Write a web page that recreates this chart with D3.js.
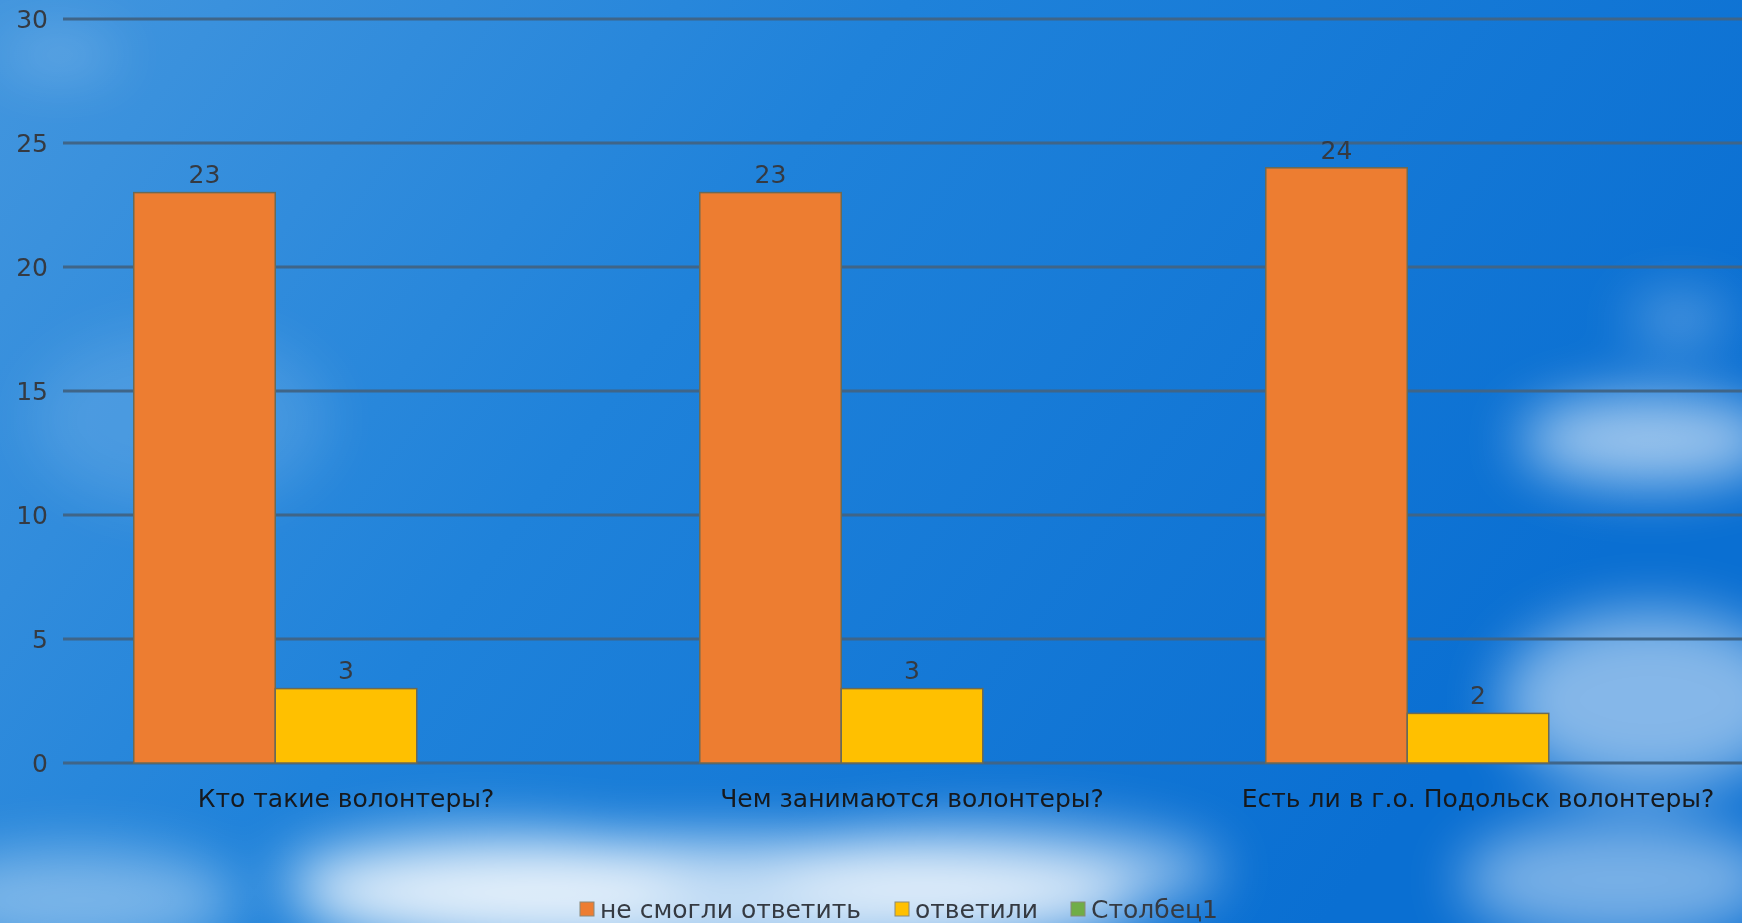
<!DOCTYPE html>
<html>
<head>
<meta charset="utf-8">
<script src="https://cdn.jsdelivr.net/npm/d3@7"></script>
<style>
  body { margin: 0; overflow: hidden; }
  svg { display: block; }
</style>
</head>
<body>
<svg id="chart" width="1742" height="923"></svg>
<script>
// --------------------------
// DATA
// --------------------------
const categories = ["Кто такие волонтеры?", "Чем занимаются волонтеры?", "Есть ли в г.о. Подольск волонтеры?"];
const seriesNames = ["не смогли ответить", "ответили", "Столбец1"];
const notAnswered = [23, 23, 24];
const answered = [3, 3, 2];
const column1 = [null, null, null];
const yTicks = [0, 5, 10, 15, 20, 25, 30];

const seriesValues = [notAnswered, answered, column1];
const colors = ["#ED7D31", "#FFC000", "#70AD47"];

const svg = d3.select("#chart");
const width = +svg.attr("width");
const height = +svg.attr("height");
const font = "'DejaVu Sans', sans-serif";
const fontSize = 25;

// --------------------------
// BACKGROUND (sky)
// --------------------------
const defs = svg.append("defs");
const grad = defs.append("linearGradient")
    .attr("id", "sky").attr("x1", 0).attr("y1", 0).attr("x2", 1).attr("y2", 0.4);
grad.append("stop").attr("offset", "0%").attr("stop-color", "#4396de");
grad.append("stop").attr("offset", "45%").attr("stop-color", "#1f82da");
grad.append("stop").attr("offset", "100%").attr("stop-color", "#0a6fd2");

const blur = defs.append("filter").attr("id", "blur")
    .attr("x", "-50%").attr("y", "-50%").attr("width", "200%").attr("height", "200%");
blur.append("feGaussianBlur").attr("stdDeviation", 28);

svg.append("rect").attr("width", width).attr("height", height).attr("fill", "url(#sky)");

const clouds = svg.append("g").attr("filter", "url(#blur)");
[
    [60, 55, 60, 18, 0.25],
    [720, 900, 420, 60, 0.75],
    [480, 880, 200, 50, 0.55],
    [1000, 870, 220, 45, 0.55],
    [80, 900, 160, 50, 0.4],
    [1650, 440, 130, 45, 0.6],
    [1650, 700, 150, 90, 0.5],
    [1620, 880, 160, 60, 0.45],
    [1680, 320, 50, 22, 0.35],
    [180, 420, 150, 90, 0.12]
].forEach(c => {
    clouds.append("ellipse")
        .attr("cx", c[0]).attr("cy", c[1]).attr("rx", c[2]).attr("ry", c[3])
        .attr("fill", "#ffffff").attr("opacity", c[4]);
});

// --------------------------
// SCALES
// --------------------------
const x0 = d3.scaleBand()
    .domain(categories)
    .range([63, 1761])
    .paddingInner(0)
    .paddingOuter(0);

const x1 = d3.scaleBand()
    .domain(seriesNames)
    .range([0, x0.bandwidth()])
    .paddingInner(0)
    .paddingOuter(0.5);

const y = d3.scaleLinear()
    .domain([0, 30])
    .range([763, 19]);

// --------------------------
// GRIDLINES + Y AXIS
// --------------------------
svg.append("g")
    .selectAll("line")
    .data(yTicks)
    .enter()
    .append("line")
    .attr("x1", 63)
    .attr("x2", width)
    .attr("y1", d => y(d))
    .attr("y2", d => y(d))
    .attr("stroke", "#3f6588")
    .attr("stroke-width", 3);

svg.append("g")
    .selectAll("text")
    .data(yTicks)
    .enter()
    .append("text")
    .attr("x", 48)
    .attr("y", d => y(d))
    .attr("dy", "0.35em")
    .attr("text-anchor", "end")
    .attr("font-family", font)
    .attr("font-size", fontSize)
    .attr("fill", "#353a42")
    .text(d => d);

// --------------------------
// BARS
// --------------------------
const rows = [];
categories.forEach((c, i) => {
    seriesNames.forEach((s, j) => {
        if (seriesValues[j][i] != null) rows.push({ cat: c, series: s, value: seriesValues[j][i], color: colors[j] });
    });
});

const bars = svg.append("g");
bars.selectAll("rect")
    .data(rows)
    .enter()
    .append("rect")
    .attr("x", d => x0(d.cat) + x1(d.series))
    .attr("y", d => y(d.value))
    .attr("width", x1.bandwidth())
    .attr("height", d => y(0) - y(d.value))
    .attr("fill", d => d.color)
    .attr("stroke", "#6b6a55")
    .attr("stroke-width", 1.5);

bars.selectAll("text")
    .data(rows)
    .enter()
    .append("text")
    .attr("x", d => x0(d.cat) + x1(d.series) + x1.bandwidth() / 2)
    .attr("y", d => y(d.value) - 18)
    .attr("dy", "0.35em")
    .attr("text-anchor", "middle")
    .attr("font-family", font)
    .attr("font-size", fontSize)
    .attr("fill", "#353a42")
    .text(d => d.value);

// --------------------------
// CATEGORY LABELS
// --------------------------
svg.append("g")
    .selectAll("text")
    .data(categories)
    .enter()
    .append("text")
    .attr("x", d => x0(d) + x0.bandwidth() / 2)
    .attr("y", 798)
    .attr("dy", "0.35em")
    .attr("text-anchor", "middle")
    .attr("font-family", font)
    .attr("font-size", fontSize)
    .attr("fill", "#16191d")
    .text(d => d);

// --------------------------
// LEGEND
// --------------------------
const legendX = [580, 895, 1071];
const legend = svg.append("g")
    .selectAll("g")
    .data(seriesNames)
    .enter()
    .append("g")
    .attr("transform", (d, i) => `translate(${legendX[i]},909)`);

legend.append("rect")
    .attr("x", 0)
    .attr("y", -7)
    .attr("width", 14)
    .attr("height", 14)
    .attr("fill", (d, i) => colors[i])
    .attr("stroke", "#8a8a7a")
    .attr("stroke-width", 1);

legend.append("text")
    .attr("x", 20)
    .attr("y", 0)
    .attr("dy", "0.35em")
    .attr("font-family", font)
    .attr("font-size", fontSize)
    .attr("fill", "#353a42")
    .text(d => d);
</script>
</body>
</html>
